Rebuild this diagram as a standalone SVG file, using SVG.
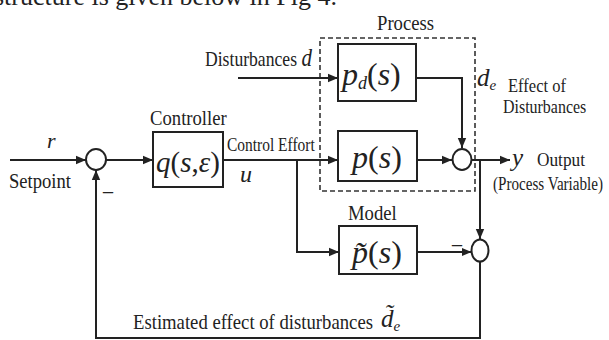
<svg xmlns="http://www.w3.org/2000/svg" width="609" height="340" viewBox="0 0 609 340">
<style>
.ln{fill:none;stroke:#222;stroke-width:2}
.bx{fill:#fff;stroke:#222;stroke-width:2}
.dash{fill:none;stroke:#333;stroke-width:1.6;stroke-dasharray:5 3}
.t{font-family:"Liberation Serif","Times New Roman",serif;fill:#222}
.i{font-style:italic}
</style>
<defs>
<marker id="ah" viewBox="0 0 10 10" refX="10" refY="5" markerWidth="10" markerHeight="10" markerUnits="userSpaceOnUse" orient="auto">
<path d="M0,0.8 L10,5 L0,9.2 z" fill="#222"/>
</marker>
</defs>
<rect width="609" height="340" fill="#fff"/>
<text class="t" x="337" y="5" font-size="26" text-anchor="end">structure is given below in Fig 4.</text>

<g id="process-frame">
<rect class="dash" x="320" y="38" width="155" height="153"/>
<text class="t" transform="translate(377,30) scale(0.89,1)" font-size="21">Process</text>
</g>

<g id="connectors">
<path class="ln" d="M10,160 H86" marker-end="url(#ah)"/>
<path class="ln" d="M106,160 H153" marker-end="url(#ah)"/>
<path class="ln" d="M223,160 H338" marker-end="url(#ah)"/>
<path class="ln" d="M238,78 H338" marker-end="url(#ah)"/>
<path class="ln" d="M416,78 H462 V148" marker-end="url(#ah)"/>
<path class="ln" d="M417,160 H452" marker-end="url(#ah)"/>
<path class="ln" d="M471.5,160 H510" marker-end="url(#ah)"/>
<path class="ln" d="M480,160 V239" marker-end="url(#ah)"/>
<path class="ln" d="M297,160 V252 H339" marker-end="url(#ah)"/>
<path class="ln" d="M417,252 H471.5" marker-end="url(#ah)"/>
<path class="ln" d="M480,262 V338 H96 V170" marker-end="url(#ah)"/>
</g>

<g id="sum1">
<ellipse class="bx" cx="96" cy="159.5" rx="10" ry="10.5"/>
<text class="t" x="103" y="190" font-size="20">_</text>
</g>

<g id="controller">
<rect class="bx" x="153" y="132" width="70" height="55"/>
<text class="t" transform="translate(150,125) scale(0.89,1)" font-size="21">Controller</text>
<text class="t" x="188" y="172" font-size="29" text-anchor="middle"><tspan class="i">q</tspan>(<tspan class="i">s</tspan>,<tspan class="i">ε</tspan>)</text>
</g>

<g id="pd">
<rect class="bx" x="338" y="44" width="78" height="57"/>
<text class="t" x="342" y="85" font-size="32"><tspan class="i">p</tspan><tspan class="i" font-size="18" dy="4">d</tspan><tspan dy="-4">(</tspan><tspan class="i">s</tspan>)</text>
</g>

<g id="p">
<rect class="bx" x="338" y="131" width="79" height="50"/>
<text class="t" x="377" y="168" font-size="32" text-anchor="middle"><tspan class="i">p</tspan>(<tspan class="i">s</tspan>)</text>
</g>

<g id="sum2">
<ellipse class="bx" cx="462" cy="159.5" rx="9.5" ry="10.5"/>
</g>

<g id="model">
<rect class="bx" x="339" y="226" width="78" height="48"/>
<text class="t" transform="translate(348,220) scale(0.89,1)" font-size="21">Model</text>
<text class="t" x="377" y="263" font-size="32" text-anchor="middle"><tspan class="i">p̃</tspan>(<tspan class="i">s</tspan>)</text>
</g>

<g id="sum3">
<ellipse class="bx" cx="480" cy="250.5" rx="8.5" ry="11"/>
<text class="t" x="452" y="243" font-size="20">_</text>
</g>

<g id="labels">
<text class="t" transform="translate(205,66) scale(0.84,1)" font-size="21">Disturbances <tspan class="i" font-size="25">d</tspan></text>
<text class="t i" x="47" y="148" font-size="22">r</text>
<text class="t" transform="translate(9,188) scale(0.93,1)" font-size="20">Setpoint</text>
<text class="t" transform="translate(227,151) scale(0.86,1)" font-size="18">Control Effort</text>
<text class="t i" x="240" y="182" font-size="24">u</text>
<text class="t i" x="477" y="86" font-size="25">d<tspan font-size="15" dy="4">e</tspan></text>
<text class="t" transform="translate(508,92) scale(0.87,1)" font-size="19">Effect of</text>
<text class="t" transform="translate(503,113) scale(0.84,1)" font-size="19">Disturbances</text>
<text class="t i" x="512" y="166" font-size="25">y</text>
<text class="t" transform="translate(537,166) scale(0.91,1)" font-size="19">Output</text>
<text class="t" transform="translate(493,190) scale(0.795,1)" font-size="19">(Process Variable)</text>
<text class="t" transform="translate(133,329) scale(0.85,1)" font-size="22">Estimated effect of disturbances</text>
<text class="t i" x="381" y="327" font-size="25">d̃<tspan font-size="15" dy="4">e</tspan></text>
</g>
</svg>
